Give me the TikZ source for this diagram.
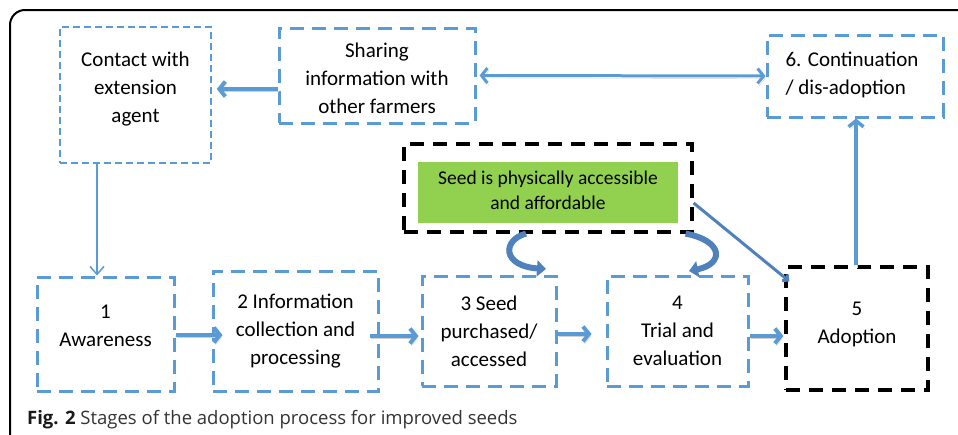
\documentclass[tikz,border=0pt]{standalone}
\usepackage{fontspec}
\setmainfont{Carlito}
\newfontfamily\capfont{Open Sans}
\usetikzlibrary{positioning}
\usetikzlibrary{arrows.meta}

\definecolor{boxblue}{HTML}{5B9BD5}
\definecolor{curlblue}{HTML}{4F81BD}
\definecolor{seedgreen}{HTML}{92D050}

\tikzset{
  txt/.style={align=center, font=\fontsize{21}{28}\selectfont},
  bluebox/.style={draw=boxblue, line width=3pt, dash pattern=on 14pt off 8pt, inner sep=0pt},
  thinbox/.style={draw=boxblue, line width=1.5pt, dash pattern=on 7pt off 4pt, inner sep=0pt},
  blackbox/.style={draw=black, line width=3.2pt, dash pattern=on 14pt off 9pt, inner sep=0pt},
  flow/.style={draw=boxblue, line width=4pt, -{Straight Barb[length=6pt,width=15pt]},
    preaction={draw=black!18, transform canvas={shift={(1.5pt,-2.5pt)}}}},
  curl/.style={draw=curlblue, line width=6pt, -{Triangle[length=9pt,width=16pt]}}
}

\begin{document}
\begin{tikzpicture}[x=1pt,y=-1pt]
      \useasboundingbox (0,0) rectangle (958,434);
      \clip (0,0) rectangle (958,434);
      % \draw[help lines] (0,0) grid (958,434);

      \draw[line width=2pt, rounded corners=15pt] (10,450) -- (10,10) -- (975,10);

      \node[thinbox, minimum width=151pt, minimum height=136pt] (contact) at (135.5,95) {};
      \node[txt] (contact_t) at (135.5,89) {Contact with\\extension\\agent};
      \node[bluebox, minimum width=196pt, minimum height=95pt] (sharing) at (377,75.5) {};
      \node[txt] (sharing_t) at (377,78.5) {Sharing\\information with\\other farmers};
      \node[bluebox, minimum width=176pt, minimum height=82pt] (cont) at (855,76) {};
      \node[txt, align=left] (cont_t) at (852,75) {6. Continuation\\/ dis-adoption};

      \node[blackbox, minimum width=288pt, minimum height=88pt] (seedbox) at (548,188) {};
      \node[fill=seedgreen, minimum width=260pt, minimum height=61pt] (seed) at (548,192.5) {};
      \node[align=center, font=\fontsize{19.5}{25}\selectfont] (seed_t) at (548,190)
            {Seed is physically accessible\\and affordable};

      \node[bluebox, minimum width=137pt, minimum height=114pt] (s1) at (105.5,334) {};
      \node[txt] (s1_t) at (105.5,326) {1\\Awareness};
      \node[bluebox, txt, minimum width=165pt, minimum height=120pt] (s2) at (295.5,331)
            {2 Information\\collection and\\processing};
      \node[bluebox, txt, minimum width=134pt, minimum height=110pt] (s3) at (489,331)
            {3 Seed\\purchased/\\accessed};
      \node[bluebox, txt, minimum width=141pt, minimum height=110pt] (s4) at (677.5,331)
            {4\\Trial and\\evaluation};
      \node[blackbox, minimum width=142pt, minimum height=123pt] (s5) at (857,328.5) {};
      \node[txt] (s5_t) at (857,324) {5\\Adoption};

      \coordinate (curl_l) at (546,269);
      \coordinate (curl_r) at (689,271);

      \path[flow] ([yshift=-13.5pt]sharing.west) -- ([yshift=-13.5pt,xshift=5pt]sharing.west -| contact.east);
      \path[flow, line width=3pt, {Straight Barb[length=6pt,width=15pt]}-{Straight Barb[length=6pt,width=15pt]}]
            ([xshift=3pt]sharing.east) -- (cont.west);
      \draw[boxblue, line width=1.5pt, -{Straight Barb[length=8pt,width=14pt]}]
            ([xshift=-38.5pt]contact.south) -- ([xshift=-38.5pt]contact.south |- s1.north);
      \path[flow] ([yshift=-1pt]s1.east) -- ([xshift=11pt,yshift=-1pt]s2.west |- s1.east);
      \path[flow] ([xshift=-10pt,yshift=-5pt]s2.east) -- ([xshift=-2pt,yshift=-5pt]s3.west |- s2.east);
      \path[flow] ([yshift=-3pt]s3.east) -- ([xshift=-14pt,yshift=-3pt]s4.west |- s3.east);
      \path[flow] ([yshift=-5pt]s4.east) -- ([xshift=-1pt,yshift=-5pt]s5.west |- s4.east);
      \path[flow, line width=3.5pt, preaction={}] ([xshift=-1pt]s5.north) -- ([xshift=-1pt]s5.north |- cont.south);
      \draw[curlblue, line width=3pt, -{Straight Barb[length=4pt,width=8pt]}]
            ([yshift=-15pt]seedbox.east) -- ([shift={(5pt,-16pt)}]s5.north west);

      \path[curl] ([xshift=-22pt]seedbox.south) .. controls (502,240) and (502,266) .. (curl_l);
      \path[curl] ([xshift=-8pt]seedbox.south east) .. controls (724,241) and (724,264) .. (curl_r);

      \node[anchor=base west, font=\capfont\fontsize{18.5}{22}\selectfont, text=black!80, inner sep=0pt]
            (caption) at (27,424) {\textbf{\color{black!90}Fig. 2} Stages of the adoption process for improved seeds};
\end{tikzpicture}
\end{document}
